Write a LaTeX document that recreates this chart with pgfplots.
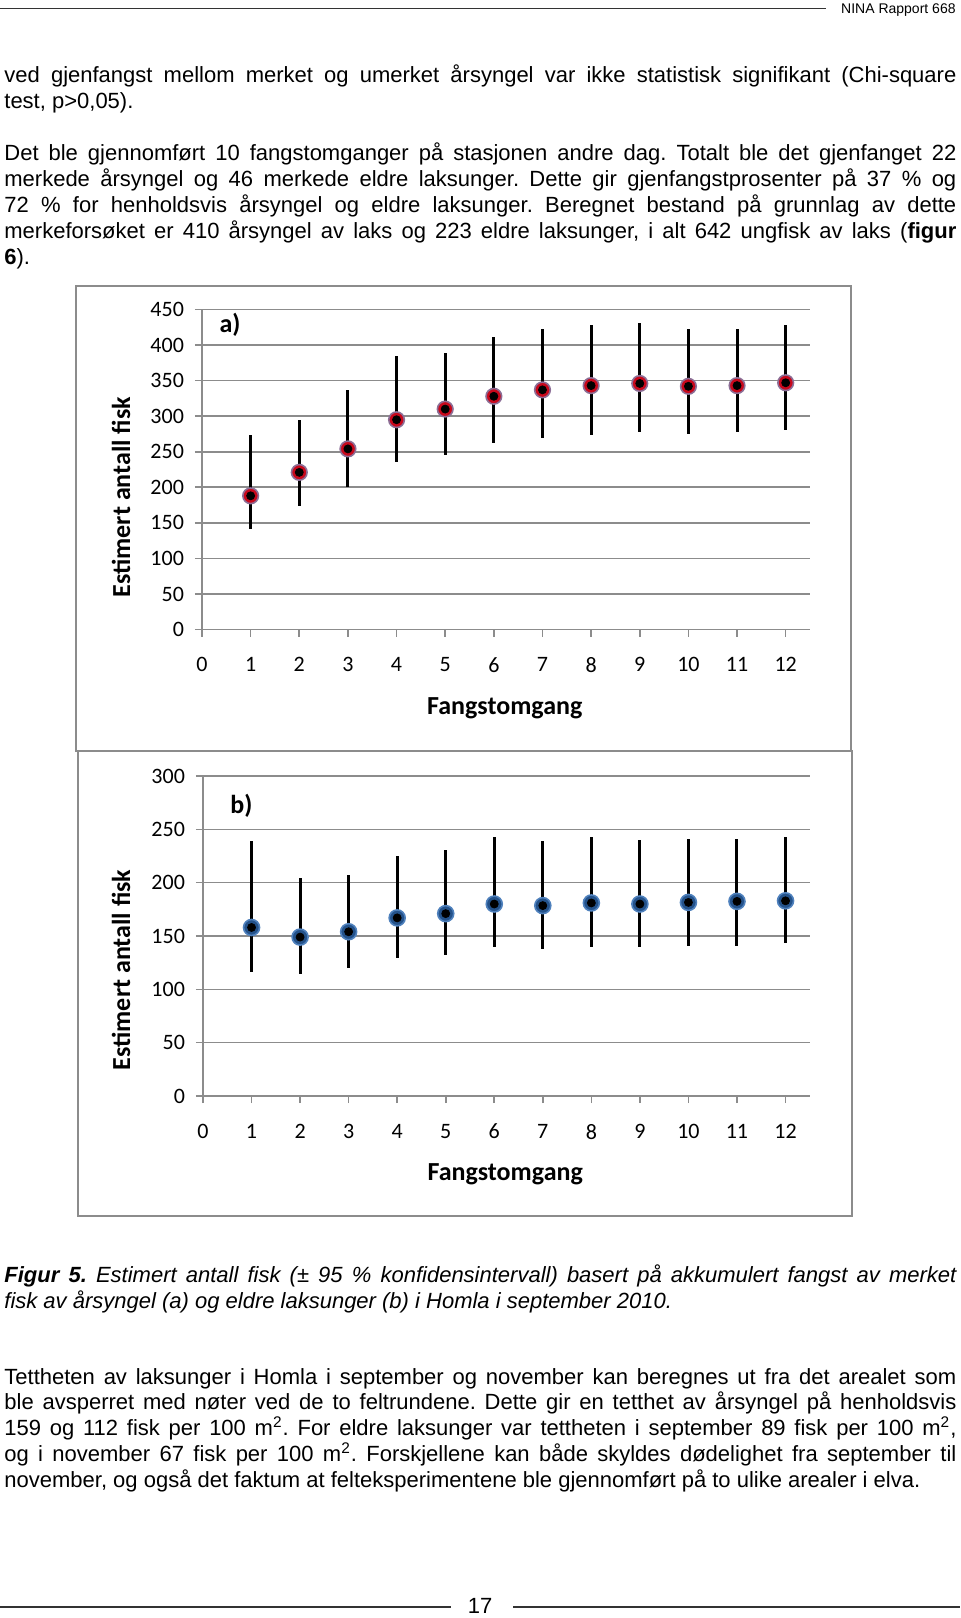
\documentclass[border=0pt]{standalone}
\usepackage{pgfplots}
\pgfplotsset{compat=1.18}
\usepackage{pgfplotstable}
\usepackage{fontspec}
\setmainfont{Liberation Sans}
\newfontfamily\calibri{Carlito}
\definecolor{gridgray}{RGB}{140,140,140}
\definecolor{mred}{RGB}{200,8,28}
\definecolor{medge}{RGB}{140,110,150}
\definecolor{mblue}{RGB}{36,82,138}
\definecolor{bedge}{RGB}{79,129,189}
\newcommand{\body}{\fontsize{11}{12.9}\selectfont}
\newcommand{\J}[1]{\makebox[476pt][s]{#1}}
\frenchspacing

\pgfplotstableread{
x y ep em
1 188 85 46
2 221 73 47
3 254 83 54
4 295 90 60
5 310 79 64
6 328 84 66
7 337 85 67
8 343 85 70
9 346 85 68
10 342 80 67
11 343 79 65
12 347 81 67
}\dataA

\pgfplotstableread{
x y ep em
1 158 81 42
2 149 55 35
3 154 53 34
4 167 58 38
5 171 60 39
6 180 63 40
7 178.5 60.5 40.5
8 181 62 41
9 180 60 40
10 181.5 59.5 40.5
11 182.5 58.5 41.5
12 183 60 40
}\dataB

\pgfplotsset{
  fishaxis/.style={
    scale only axis,
    clip=false,
    xmin=0, xmax=12.5,
    ymin=0,
    xtick={0,1,...,12},
    axis x line=bottom,
    axis y line=left,
    axis line style={-, draw=gridgray, line width=0.8pt},
    ymajorgrids,
    grid style={draw=gridgray, line width=0.8pt},
    tick align=outside,
    major tick length=3.5pt,
    tick style={draw=gridgray, line width=0.8pt},
    /pgf/number format/assume math mode=true,
    ticklabel style={font=\calibri\fontsize{11}{13}\selectfont},
    yticklabel style={xshift=-2pt},
    xticklabel style={yshift=-7pt},
    every axis x label/.style={at={(axis description cs:0.498,-0.245)}, anchor=center, font=\calibri\bfseries\fontsize{13}{15}\selectfont},
    every axis y label/.style={at={(axis description cs:-0.133,0.414)}, rotate=90, anchor=center, font=\calibri\bfseries\fontsize{13}{15}\selectfont},
    xlabel={Fangstomgang},
    ylabel={Estimert antall fisk},
  }
}

\begin{document}
\begin{tikzpicture}
\useasboundingbox (0pt,0pt) rectangle (480pt,-809pt);

% header
\draw[line width=0.6pt, black!80] (0pt,-4.15pt) -- (413pt,-4.15pt);
\node[anchor=east, inner sep=0pt, font=\fontsize{7}{8}\selectfont] at (478pt,-4.9pt) {NINA Rapport 668};

% paragraph 1
\node[anchor=base west, inner sep=0pt, font=\body] at (2pt,-41.15pt) {\J{ved gjenfangst mellom merket og umerket årsyngel var ikke statistisk signifikant (Chi-square}};
\node[anchor=base west, inner sep=0pt, font=\body] at (2pt,-54.05pt) {test, p>0,05).};

% paragraph 2
\node[anchor=base west, inner sep=0pt, font=\body] at (2pt,-80.4pt) {\J{Det ble gjennomført 10 fangstomganger på stasjonen andre dag. Totalt ble det gjenfanget 22}};
\node[anchor=base west, inner sep=0pt, font=\body] at (2pt,-93.3pt) {\J{merkede årsyngel og 46 merkede eldre laksunger. Dette gir gjenfangstprosenter på 37 \% og}};
\node[anchor=base west, inner sep=0pt, font=\body] at (2pt,-106.2pt) {\J{72 \% for henholdsvis årsyngel og eldre laksunger. Beregnet bestand på grunnlag av dette}};
\node[anchor=base west, inner sep=0pt, font=\body] at (2pt,-119.1pt) {\J{merkeforsøket er 410 årsyngel av laks og 223 eldre laksunger, i alt 642 ungfisk av laks (\textbf{figur}}};
\node[anchor=base west, inner sep=0pt, font=\body] at (2pt,-132.0pt) {\textbf{6}).};

% frames
\draw[draw=gridgray, line width=1pt] (38pt,-143pt) rectangle (425.5pt,-375.5pt);
\draw[draw=gridgray, line width=1pt] (39pt,-375.5pt) rectangle (426pt,-608pt);

% chart a
\begin{axis}[fishaxis,
  at={(101pt,-314.75pt)}, anchor=south west,
  width=304pt, height=160pt,
  ymax=450, ytick={0,50,...,450}]
\addplot[only marks, mark=*, mark size=3.9pt, mark options={fill=mred, draw=medge, line width=0.8pt}] table[x=x,y=y] {\dataA};
\addplot[only marks, mark=none, error bars/.cd, y dir=both, y explicit, error mark=none, error bar style={line width=1.5pt, black}] table[x=x, y=y, y error plus=ep, y error minus=em] {\dataA};
\node[font=\calibri\bfseries\fontsize{13}{15}\selectfont] at (axis cs:0.575,428) {a)};
\end{axis}

% chart b
\begin{axis}[fishaxis,
  at={(101.5pt,-548pt)}, anchor=south west,
  width=303.4pt, height=160pt,
  ymax=300, ytick={0,50,...,300},
  every axis y label/.style={at={(axis description cs:-0.135,0.394)}, rotate=90, anchor=center, font=\calibri\bfseries\fontsize{13}{15}\selectfont}]
\addplot[only marks, mark=*, mark size=4pt, mark options={fill=mblue, draw=bedge, line width=0.8pt}] table[x=x,y=y] {\dataB};
\addplot[only marks, mark=none, error bars/.cd, y dir=both, y explicit, error mark=none, error bar style={line width=1.5pt, black}] table[x=x, y=y, y error plus=ep, y error minus=em] {\dataB};
\node[font=\calibri\bfseries\fontsize{13}{15}\selectfont] at (axis cs:0.79,272) {b)};
\end{axis}

% caption
\node[anchor=base west, inner sep=0pt, font=\body\itshape] at (2pt,-641.45pt) {\J{\textbf{Figur 5.} Estimert antall fisk (± 95 \% konfidensintervall) basert på akkumulert fangst av merket}};
\node[anchor=base west, inner sep=0pt, font=\body\itshape] at (2pt,-654.35pt) {fisk av årsyngel (a) og eldre laksunger (b) i Homla i september 2010.};

% paragraph 3
\node[anchor=base west, inner sep=0pt, font=\body] at (2pt,-692.05pt) {\J{Tettheten av laksunger i Homla i september og november kan beregnes ut fra det arealet som}};
\node[anchor=base west, inner sep=0pt, font=\body] at (2pt,-704.95pt) {\J{ble avsperret med nøter ved de to feltrundene. Dette gir en tetthet av årsyngel på henholdsvis}};
\node[anchor=base west, inner sep=0pt, font=\body] at (2pt,-717.85pt) {\J{159 og 112 fisk per 100 m\textsuperscript{2}. For eldre laksunger var tettheten i september 89 fisk per 100 m\textsuperscript{2},}};
\node[anchor=base west, inner sep=0pt, font=\body] at (2pt,-730.75pt) {\J{og i november 67 fisk per 100 m\textsuperscript{2}. Forskjellene kan både skyldes dødelighet fra september til}};
\node[anchor=base west, inner sep=0pt, font=\body] at (2pt,-743.65pt) {november, og også det faktum at felteksperimentene ble gjennomført på to ulike arealer i elva.};

% footer
\draw[line width=0.7pt, black!80] (0pt,-803.5pt) -- (225.5pt,-803.5pt);
\draw[line width=0.7pt, black!80] (256.5pt,-803.5pt) -- (480pt,-803.5pt);
\node[anchor=center, inner sep=0pt, font=\fontsize{11}{13}\selectfont] at (240pt,-803pt) {17};
\end{tikzpicture}
\end{document}
